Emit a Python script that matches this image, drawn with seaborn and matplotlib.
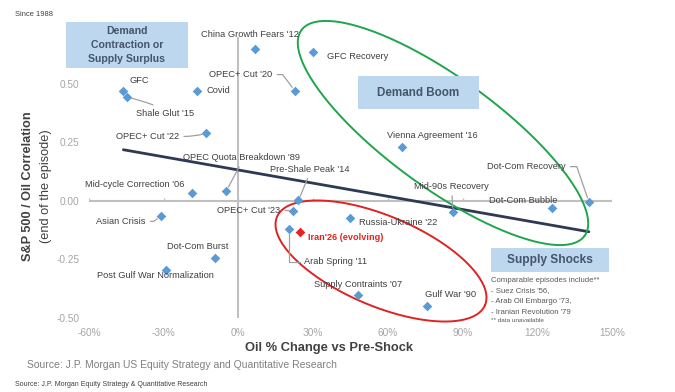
import numpy as np
import pandas as pd
import matplotlib
matplotlib.use('Agg')
import matplotlib.pyplot as plt
from matplotlib import font_manager
from matplotlib.patches import Rectangle
import seaborn as sns

# Datos (cambio del petroleo en %, correlacion S&P 500 / petroleo)
episodios = ["China Growth Fears '12", "GFC Recovery", "OPEC+ Cut '20", "GFC", "Shale Glut '15",
             "Covid", "OPEC+ Cut '22", "OPEC Quota Breakdown '89", "Mid-cycle Correction '06",
             "Pre-Shale Peak '14", "OPEC+ Cut '23", "Asian Crisis", "Arab Spring '11",
             "Dot-Com Burst", "Post Gulf War Normalization", "Russia-Ukraine '22",
             "Supply Contraints '07", "Gulf War '90", "Mid-90s Recovery", "Dot-Com Bubble",
             "Dot-Com Recovery", "Vienna Agreement '16"]
cambio_petroleo = [6.8, 29.8, 22.6, -46.2, -44.7, -16.5, -12.9, -4.8, -18.7, 24.1, 22.1, -31.2,
                   20.5, -9.5, -29.0, 44.7, 48.1, 75.8, 86.1, 125.8, 140.7, 65.5]
correlacion = [0.648, 0.635, 0.471, 0.469, 0.443, 0.470, 0.292, 0.043, 0.033, 0.002, -0.041,
               -0.066, -0.118, -0.242, -0.296, -0.074, -0.403, -0.449, -0.046, -0.031, -0.003, 0.232]

iran_label = "Iran'26 (evolving)"
iran_cambio = [24.9]
iran_corr = [-0.131]

x_ticks = [-60, -30, 0, 30, 60, 90, 120, 150]
y_ticks = [-0.50, -0.25, 0.00, 0.25, 0.50]

df = pd.DataFrame({'episodio': episodios, 'cambio': cambio_petroleo, 'corr': correlacion})
df_iran = pd.DataFrame({'cambio': iran_cambio, 'corr': iran_corr})

# Posicion de las etiquetas (desplazamiento en pixeles, alineacion, linea guia)
etiquetas = {
    "China Growth Fears '12": (-5, 15, 'center', None),
    "GFC Recovery": (14, -4, 'left', None),
    "OPEC+ Cut '20": (-22, 16, 'right', ((1, 0.5), "angle,angleA=0,angleB=-53,rad=0")),
    "GFC": (16, 11, 'center', None),
    "Shale Glut '15": (9, -16, 'left', ((0.45, 1), "arc3,rad=0.05")),
    "Covid": (9, 0, 'left', None),
    "OPEC+ Cut '22": (-27, -4, 'right', ((1, 0.5), "angle3,angleA=0,angleB=30")),
    "OPEC Quota Breakdown '89": (15, 33, 'center', ((0.5, 0), "arc3,rad=0")),
    "Mid-cycle Correction '06": (-7, 9, 'right', None),
    "Pre-Shale Peak '14": (11, 31, 'center', ((0.5, 0), "arc3,rad=0")),
    "OPEC+ Cut '23": (-13, 0, 'right', ((1, 0.5), "arc3,rad=0")),
    "Asian Crisis": (-15, -5, 'right', ((1, 0.5), "angle,angleA=0,angleB=35,rad=0")),
    "Arab Spring '11": (15, -33, 'left', ((0, 0.5), "angle,angleA=0,angleB=90,rad=0")),
    "Dot-Com Burst": (-17, 11, 'center', None),
    "Post Gulf War Normalization": (-11, -5, 'center', None),
    "Russia-Ukraine '22": (9, -4, 'left', None),
    "Supply Contraints '07": (0, 11, 'center', None),
    "Gulf War '90": (23, 12, 'center', None),
    "Mid-90s Recovery": (-1, 25, 'center', ((0.5, 0), "arc3,rad=0")),
    "Dot-Com Bubble": (-29, 8, 'center', None),
    "Dot-Com Recovery": (-23, 35, 'right', ((1, 0.5), "angle,angleA=0,angleB=-71,rad=0")),
    "Vienna Agreement '16": (31, 11, 'center', None),
}

sns.set_style('white')
familia = 'Liberation Sans'
try:
    font_manager.findfont('Liberation Sans Narrow', fallback_to_default=False)
    familia = 'Liberation Sans Narrow'
except Exception:
    pass
plt.rcParams['font.family'] = [familia, 'DejaVu Sans']

W, H = 675, 392
fig = plt.figure(figsize=(W / 100, H / 100), dpi=100)
ax = fig.add_axes([89 / W, (H - 318) / H, 523 / W, 281 / H])

# Ejes en cero con pequenas marcas
ax.axhline(0, color='#c0c0c0', lw=1.5, zorder=1)
ax.axvline(0, color='#c0c0c0', lw=1.5, zorder=1)
ax.vlines(x_ticks, 0, 0.013, color='#c0c0c0', lw=1, zorder=1)

sns.regplot(data=df, x='cambio', y='corr', scatter=False, ci=None, truncate=True,
            line_kws=dict(color='#2e3a52', lw=2, zorder=2), ax=ax)
sns.scatterplot(data=df, x='cambio', y='corr', marker='D', s=24, color='#5b9bd5',
                linewidth=0, zorder=4, ax=ax)
sns.scatterplot(data=df_iran, x='cambio', y='corr', marker='D', s=24, color='#e8231f',
                linewidth=0, zorder=4, ax=ax)

ax.set_xlim(-60, 150)
ax.set_ylim(-0.5, 0.7)
ax.set_xticks(x_ticks)
ax.set_xticklabels([f'{v}%' for v in x_ticks])
ax.set_yticks(y_ticks)
ax.set_yticklabels([f'{v:.2f}' for v in y_ticks])
ax.tick_params(axis='both', length=0, labelsize=7.3, labelcolor='#a6a6a6')
ax.tick_params(axis='y', pad=7)
ax.tick_params(axis='x', pad=7)
ax.set_xlabel('')
ax.set_ylabel('')
for s in ax.spines.values():
    s.set_visible(False)

for nombre, x, y in zip(df['episodio'], df['cambio'], df['corr']):
    dx, dy, ha, guia = etiquetas[nombre]
    kw = {}
    if guia is not None:
        relpos, estilo = guia
        kw['arrowprops'] = dict(arrowstyle='-', color='#a0a0a0', lw=0.9, relpos=relpos,
                                connectionstyle=estilo, shrinkA=1, shrinkB=3)
    ax.annotate(nombre, xy=(x, y), xytext=(dx, dy), textcoords='offset pixels',
                ha=ha, va='center', fontsize=6.7, color='#404040', zorder=5, **kw)

ax.annotate(iran_label, xy=(iran_cambio[0], iran_corr[0]), xytext=(8, -6),
            textcoords='offset pixels', ha='left', va='center', fontsize=6.6,
            color='#e8231f', fontweight='bold', zorder=5)


# Elipses (definidas en pixeles de la imagen)
def elipse(cx, cy, a, b, ang):
    t = np.linspace(0, 2 * np.pi, 300)
    th = np.deg2rad(ang)
    px = cx + a * np.cos(t) * np.cos(th) - b * np.sin(t) * np.sin(th)
    py = cy + a * np.cos(t) * np.sin(th) + b * np.sin(t) * np.cos(th)
    return ax.transData.inverted().transform(np.column_stack([px, H - py]))


verde = elipse(443, 133, 175, 55, 36)
ax.plot(verde[:, 0], verde[:, 1], color='#1fa54a', lw=1.4, zorder=3, clip_on=False)
rojo = elipse(381, 261, 113, 45, 23)
ax.plot(rojo[:, 0], rojo[:, 1], color='#e02222', lw=1.4, zorder=3, clip_on=False)


# Cajas de texto
def caja(x0, y0, x1, y1, texto, size, esp=1.15):
    fig.patches.append(Rectangle((x0 / W, 1 - y1 / H), (x1 - x0) / W, (y1 - y0) / H,
                                 transform=fig.transFigure, facecolor='#bdd7ee',
                                 edgecolor='none', zorder=0))
    fig.text((x0 + x1) / 2 / W, 1 - (y0 + y1) / 2 / H, texto, ha='center', va='center',
             fontsize=size, fontweight='bold', color='#44546a', linespacing=esp)


caja(66, 22, 188, 68, 'Demand\nContraction or\nSupply Surplus', 7.6, 1.45)
caja(358, 76, 479, 109, 'Demand Boom', 8.4)
caja(491, 248, 609, 272, 'Supply Shocks', 8.6)

gris = '#595959'
fig.text(491 / W, 1 - 280 / H, "Comparable episodes include**", fontsize=5.6, color=gris, va='center')
fig.text(491 / W, 1 - 291 / H, "- Suez Crisis '56,", fontsize=5.6, color=gris, va='center')
fig.text(491 / W, 1 - 301.5 / H, "- Arab Oil Embargo '73,", fontsize=5.6, color=gris, va='center')
fig.text(491 / W, 1 - 312 / H, "- Iranian Revolution '79", fontsize=5.6, color=gris, va='center')
fig.text(491 / W, 1 - 321 / H, "** data unavailable", fontsize=4.6, color=gris, va='center')

fig.text(28 / W, 1 - 186 / H, 'S&P 500 / Oil Correlation', rotation=90, ha='center', va='center',
         fontsize=9.2, fontweight='bold', color='#404040')
fig.text(46 / W, 1 - 186 / H, '(end of the episode)', rotation=90, ha='center', va='center',
         fontsize=9.2, color='#404040')
fig.text(329 / W, 1 - 348 / H, 'Oil % Change vs Pre-Shock', ha='center', va='center',
         fontsize=9.3, fontweight='bold', color='#404040')
fig.text(27 / W, 1 - 365 / H, 'Source: J.P. Morgan US Equity Strategy and Quantitative Research',
         ha='left', va='center', fontsize=7.5, color='#808080')
fig.text(15 / W, 1 - 385 / H, 'Source: J.P. Morgan Equity Strategy & Quantitative Research',
         ha='left', va='center', fontsize=5.0, color='#404040')
fig.text(15 / W, 1 - 14 / H, 'Since 1988', ha='left', va='center', fontsize=5.4, color='#404040')

fig.savefig('out.png', dpi=100)
